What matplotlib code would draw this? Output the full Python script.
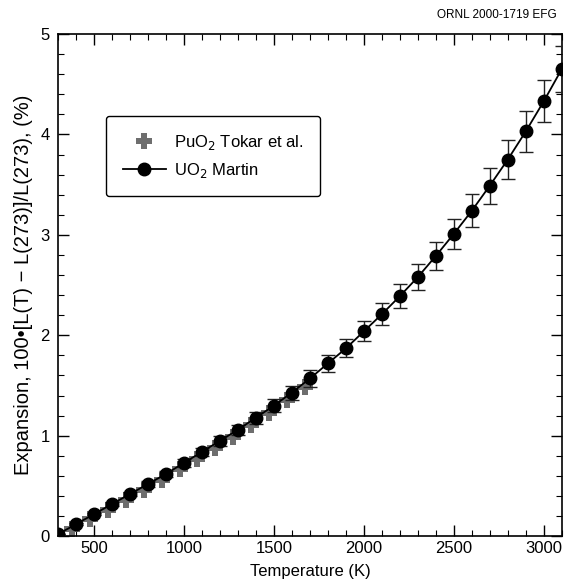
import matplotlib
matplotlib.use('Agg')
import matplotlib.pyplot as plt
from matplotlib.lines import Line2D
from matplotlib.ticker import MultipleLocator

plt.rcParams['font.family'] = ['Liberation Sans', 'DejaVu Sans']

# ── UO2 Martin (K, % expansion, error) ───────────────────────────────────────
uo2_temp = [300, 400, 500, 600, 700, 800, 900, 1000, 1100, 1200, 1300, 1400,
            1500, 1600, 1700, 1800, 1900, 2000, 2100, 2200, 2300, 2400, 2500,
            2600, 2700, 2800, 2900, 3000, 3100]
uo2_exp = [0.02, 0.12, 0.22, 0.32, 0.42, 0.52, 0.62, 0.73, 0.84, 0.95, 1.06,
           1.18, 1.30, 1.43, 1.57, 1.72, 1.87, 2.04, 2.21, 2.39, 2.58, 2.79,
           3.01, 3.24, 3.49, 3.75, 4.03, 4.33, 4.65]
uo2_err = [0.00, 0.01, 0.01, 0.02, 0.02, 0.03, 0.03, 0.04, 0.04, 0.05, 0.05,
           0.06, 0.065, 0.07, 0.08, 0.085, 0.09, 0.10, 0.11, 0.12, 0.13, 0.14,
           0.15, 0.165, 0.18, 0.19, 0.20, 0.21, 0.23]

# ── PuO2 Tokar et al. ─────────────────────────────────────────────────────────
puo2_temp = [375, 475, 575, 675, 775, 875, 975, 1075, 1175, 1275, 1375, 1475,
             1575, 1675]
puo2_exp = [0.07, 0.17, 0.26, 0.36, 0.46, 0.56, 0.67, 0.77, 0.88, 0.99, 1.11,
            1.23, 1.36, 1.49]

fig = plt.figure(figsize=(5.64, 5.86), dpi=100)
ax = fig.add_axes([0.103, 0.085, 0.893, 0.857])

ax.plot(puo2_temp, puo2_exp, linestyle='none', marker='P', markersize=11,
        color='#6e6e6e', markeredgewidth=0, zorder=2)
ax.errorbar(uo2_temp, uo2_exp, yerr=uo2_err, fmt='-o', color='black',
            markersize=9, linewidth=1.3, elinewidth=1.0, capsize=5,
            capthick=1.0, ecolor='#222222', zorder=3)

ax.set_xlim(300, 3100)
ax.set_ylim(0, 5)
ax.xaxis.set_major_locator(MultipleLocator(500))
ax.xaxis.set_minor_locator(MultipleLocator(100))
ax.yaxis.set_major_locator(MultipleLocator(1))
ax.yaxis.set_minor_locator(MultipleLocator(0.2))
ax.tick_params(which='both', direction='in', top=True, right=True, labelsize=12)
ax.tick_params(which='major', length=8, width=1.0)
ax.tick_params(which='minor', length=4, width=0.8)
ax.tick_params(axis='y', which='major', pad=6)
for s in ax.spines.values():
    s.set_linewidth(1.2)

ax.set_xlabel('Temperature (K)', fontsize=12, labelpad=6)
ax.set_ylabel('Expansion, 100\u2022[L(T) \u2212 L(273)]/L(273), (%)',
              fontsize=14.5, labelpad=5)

handles = [
    Line2D([], [], linestyle='none', marker='P', markersize=11,
           color='#6e6e6e', markeredgewidth=0),
    Line2D([], [], color='black', marker='o', markersize=9, linewidth=1.3),
]
labels = ['PuO$_2$ Tokar et al.', 'UO$_2$ Martin']
leg = ax.legend(handles, labels, loc='upper left', bbox_to_anchor=(0.095, 0.837),
                borderaxespad=0, fontsize=12, frameon=True, fancybox=True,
                edgecolor='black', handlelength=2.6, borderpad=1.0,
                labelspacing=0.55, handletextpad=0.5)
leg.get_frame().set_linewidth(1.0)
leg.get_frame().set_alpha(1)

fig.text(0.988, 0.985, 'ORNL 2000-1719 EFG', ha='right', va='top', fontsize=8.5)

fig.savefig('out.png', dpi=100)
